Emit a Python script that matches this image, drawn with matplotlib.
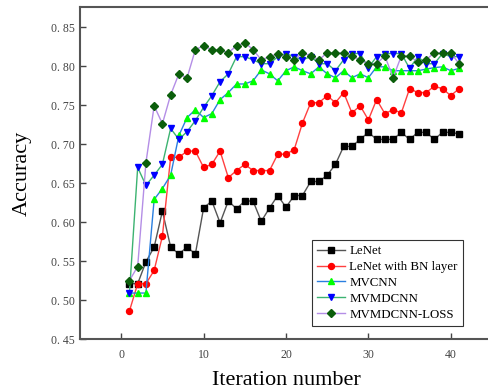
import numpy as np
import matplotlib
matplotlib.use("Agg")
import matplotlib.pyplot as plt
from matplotlib.ticker import FuncFormatter

plt.rcParams['font.family'] = ['Liberation Serif', 'DejaVu Serif']

# iteraciones
it = np.arange(1, 42)

lenet = [0.521, 0.521, 0.549, 0.568, 0.614, 0.568, 0.559, 0.568, 0.559, 0.618,
         0.627, 0.599, 0.627, 0.617, 0.627, 0.627, 0.601, 0.618, 0.634, 0.619,
         0.634, 0.634, 0.652, 0.652, 0.660, 0.674, 0.697, 0.697, 0.706, 0.715,
         0.706, 0.706, 0.706, 0.715, 0.706, 0.715, 0.715, 0.706, 0.715, 0.715,
         0.713]
lenet_bn = [0.486, 0.521, 0.521, 0.538, 0.582, 0.683, 0.683, 0.691, 0.691, 0.670,
            0.674, 0.691, 0.657, 0.666, 0.674, 0.666, 0.666, 0.666, 0.687, 0.687,
            0.693, 0.727, 0.753, 0.753, 0.762, 0.753, 0.766, 0.740, 0.749, 0.731,
            0.757, 0.739, 0.744, 0.740, 0.771, 0.766, 0.766, 0.774, 0.771, 0.762,
            0.771]
mvcnn = [0.509, 0.509, 0.509, 0.629, 0.643, 0.660, 0.711, 0.734, 0.744, 0.734,
         0.739, 0.757, 0.766, 0.777, 0.777, 0.781, 0.795, 0.790, 0.781, 0.794,
         0.799, 0.794, 0.790, 0.799, 0.790, 0.785, 0.794, 0.785, 0.790, 0.785,
         0.799, 0.799, 0.794, 0.794, 0.794, 0.794, 0.796, 0.798, 0.799, 0.794,
         0.797]
mvmdcnn = [0.509, 0.670, 0.647, 0.660, 0.674, 0.720, 0.706, 0.716, 0.730, 0.747,
           0.762, 0.780, 0.790, 0.812, 0.812, 0.808, 0.803, 0.803, 0.812, 0.816,
           0.812, 0.808, 0.812, 0.803, 0.803, 0.794, 0.808, 0.816, 0.816, 0.798,
           0.812, 0.816, 0.816, 0.816, 0.797, 0.812, 0.803, 0.803, 0.816, 0.812,
           0.812]
mvmdcnn_loss = [0.525, 0.543, 0.676, 0.749, 0.726, 0.763, 0.790, 0.785, 0.821, 0.826,
                0.821, 0.821, 0.817, 0.826, 0.830, 0.821, 0.808, 0.812, 0.816, 0.812,
                0.808, 0.817, 0.813, 0.808, 0.817, 0.817, 0.817, 0.813, 0.808, 0.803,
                0.803, 0.813, 0.785, 0.813, 0.813, 0.805, 0.808, 0.817, 0.817, 0.817,
                0.803]

fig = plt.figure(figsize=(4.89, 3.92), dpi=100)
ax = fig.add_axes([0.1636, 0.135, 0.8425, 0.847])

ax.plot(it, lenet, color='#555555', lw=1, marker='s', ms=3.8, mfc='black', mec='black', label='LeNet')
ax.plot(it, lenet_bn, color='#ff4040', lw=1, marker='o', ms=4.3, mfc='red', mec='red', label='LeNet with BN layer')
ax.plot(it, mvcnn, color='#2a7fe0', lw=1, marker='^', ms=4.8, mfc='#00ff00', mec='#00ff00', label='MVCNN')
ax.plot(it, mvmdcnn, color='#3cb371', lw=1, marker='v', ms=4.8, mfc='blue', mec='blue', label='MVMDCNN')
ax.plot(it, mvmdcnn_loss, color='#b48ee6', lw=1, marker='D', ms=3.8, mfc='#0b5e0b', mec='#0b5e0b', label='MVMDCNN-LOSS')

ax.set_xlim(-5, 45)
ax.set_ylim(0.45, 0.8756)
ax.set_xticks([0, 10, 20, 30, 40])
ax.set_yticks(np.arange(0.45, 0.851, 0.05))
ax.yaxis.set_major_formatter(FuncFormatter(lambda v, p: '0. %02d' % round(v * 100)))
ax.tick_params(direction='in', labelsize=8.5, length=4, width=1, color='#444444', labelcolor='#444444')
ax.tick_params(axis='x', pad=7)

for s in ['left', 'bottom', 'top']:
    ax.spines[s].set_color('#555555')
    ax.spines[s].set_linewidth(1.5)
ax.spines['right'].set_visible(False)

ax.set_xlabel('Iteration number', fontsize=16, labelpad=7)
ax.set_ylabel('Accuracy', fontsize=16, labelpad=14)

leg = ax.legend(loc='lower right', bbox_to_anchor=(0.945, 0.02), fontsize=9.3,
                frameon=True, fancybox=False, edgecolor='black',
                handlelength=2.2, borderpad=0.4, labelspacing=0.3, handletextpad=0.3)
leg.get_frame().set_linewidth(0.8)

fig.savefig('out.png', dpi=100)
